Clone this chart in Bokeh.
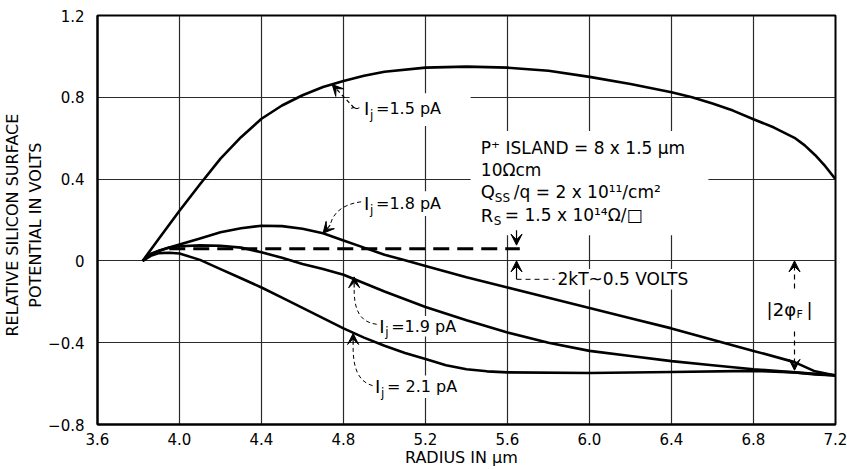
from bokeh.plotting import figure
from bokeh.models import Range1d, FixedTicker, Label, Arrow, VeeHead
from bokeh.embed import file_html
from bokeh.resources import INLINE

# ---------------- data ----------------
x_ticks = [3.6, 4.0, 4.4, 4.8, 5.2, 5.6, 6.0, 6.4, 6.8, 7.2]
x_tick_labels = ["3.6", "4.0", "4.4", "4.8", "5.2", "5.6", "6.0", "6.4", "6.8", "7.2"]
y_ticks = [-0.8, -0.4, 0.0, 0.4, 0.8, 1.2]
y_tick_labels = ["\u22120.8", "\u22120.4", "0", "0.4", "0.8", "1.2"]

radius_15 = [3.82, 3.9, 4.0, 4.1, 4.2, 4.3, 4.4, 4.5, 4.6, 4.7, 4.8, 4.9, 5.0, 5.2, 5.4,
             5.6, 5.8, 6.0, 6.2, 6.4, 6.5, 6.6, 6.7, 6.8, 6.9, 7.0, 7.05, 7.1, 7.15, 7.2]
potential_15 = [0.0, 0.11, 0.245, 0.375, 0.50, 0.605, 0.695, 0.76, 0.81, 0.85, 0.88, 0.905,
                0.925, 0.945, 0.95, 0.945, 0.93, 0.90, 0.865, 0.825, 0.80, 0.77, 0.735, 0.693,
                0.652, 0.602, 0.565, 0.518, 0.463, 0.40]

radius_18 = [3.82, 3.86, 3.9, 3.95, 4.0, 4.1, 4.2, 4.3, 4.4, 4.5, 4.6, 4.7, 4.8, 4.9, 5.0,
             5.1, 5.2, 5.4, 5.6, 5.8, 6.0, 6.2, 6.4, 6.6, 6.8, 7.0, 7.1, 7.2]
potential_18 = [0.0, 0.03, 0.05, 0.065, 0.08, 0.11, 0.14, 0.16, 0.172, 0.17, 0.157, 0.135,
                0.10, 0.065, 0.03, 0.003, -0.025, -0.08, -0.13, -0.18, -0.23, -0.28, -0.33,
                -0.385, -0.44, -0.495, -0.54, -0.56]

radius_19 = [3.82, 3.86, 3.9, 3.95, 4.0, 4.1, 4.2, 4.3, 4.4, 4.5, 4.6, 4.7, 4.8, 5.0, 5.2,
             5.4, 5.6, 5.8, 6.0, 6.2, 6.4, 6.6, 6.8, 7.0, 7.2]
potential_19 = [0.0, 0.035, 0.05, 0.065, 0.072, 0.076, 0.074, 0.065, 0.042, 0.015, -0.015,
                -0.04, -0.068, -0.15, -0.225, -0.29, -0.35, -0.40, -0.44, -0.465, -0.49,
                -0.51, -0.53, -0.545, -0.56]

radius_21 = [3.82, 3.86, 3.9, 3.95, 4.0, 4.1, 4.2, 4.3, 4.4, 4.5, 4.6, 4.7, 4.8, 4.9, 5.0,
             5.1, 5.2, 5.3, 5.4, 5.5, 5.6, 6.0, 6.4, 6.8, 7.0, 7.1, 7.2]
potential_21 = [0.0, 0.025, 0.038, 0.04, 0.036, 0.005, -0.04, -0.085, -0.13, -0.18, -0.23,
                -0.28, -0.33, -0.375, -0.415, -0.45, -0.48, -0.51, -0.53, -0.54, -0.545,
                -0.548, -0.543, -0.538, -0.545, -0.555, -0.56]

kt_radius = [3.95, 5.66]   # extent of the 2kT level line
kt_level = 0.06            # 2kT level (volts)
phi_f_level = -0.535       # lower end of |2 phi_F|

FONT = "DejaVu Sans"

p = figure(width=847, height=469, x_range=Range1d(3.6, 7.2), y_range=Range1d(-0.8, 1.2),
           output_backend="svg", toolbar_location=None,
           min_border_left=96, min_border_right=12, min_border_top=15, min_border_bottom=45)
p.background_fill_color = "white"
p.border_fill_color = "white"
p.outline_line_color = "black"
p.outline_line_width = 2

p.xaxis.ticker = FixedTicker(ticks=x_ticks)
p.yaxis.ticker = FixedTicker(ticks=y_ticks)
p.xgrid.ticker = FixedTicker(ticks=x_ticks)
p.ygrid.ticker = FixedTicker(ticks=y_ticks)
p.xaxis.major_label_overrides = dict(zip(x_ticks, x_tick_labels))
p.yaxis.major_label_overrides = dict(zip(y_ticks, y_tick_labels))
for g in (p.xgrid, p.ygrid):
    g.grid_line_color = "#2a2a2a"
    g.grid_line_width = 1.2
for ax in (p.xaxis, p.yaxis):
    ax.axis_line_color = "black"
    ax.axis_line_width = 2
    ax.major_tick_line_color = None
    ax.minor_tick_line_color = None
    ax.major_label_text_font = FONT
    ax.major_label_text_font_size = "15px"
    ax.major_label_text_color = "black"
    ax.axis_label_text_font = FONT
    ax.axis_label_text_font_style = "normal"
    ax.axis_label_text_color = "black"
p.xaxis.axis_label_text_font_size = "16px"
p.yaxis.axis_label_text_font_size = "16px"
p.xaxis.major_label_standoff = 2
p.yaxis.major_label_standoff = 7
p.xaxis.axis_label_standoff = 0
p.yaxis.axis_label_standoff = 0
p.xaxis.axis_label = "RADIUS  IN  \u03bcm"
p.yaxis.axis_label = "RELATIVE  SILICON  SURFACE\nPOTENTIAL  IN  VOLTS"

# white knock-out boxes behind texts (hide grid lines)
p.quad(left=[4.83, 4.87, 4.95, 4.93, 5.42, 5.82],
       right=[5.42, 5.33, 5.36, 5.37, 6.58, 6.56],
       bottom=[0.66, 0.22, -0.37, -0.67, 0.126, -0.14],
       top=[0.82, 0.34, -0.27, -0.56, 0.635, -0.04],
       fill_color="white", line_color=None)

# curves
for xs, ys in ((radius_15, potential_15), (radius_18, potential_18),
               (radius_19, potential_19), (radius_21, potential_21)):
    p.line(xs, ys, line_color="black", line_width=2.6, line_join="round")

# 2kT dashed level
p.line(kt_radius, [kt_level, kt_level], line_color="black", line_width=3, line_dash="16 8")


def lab(x, y, text, size=15, dx=0, dy=0, align="left"):
    p.add_layout(Label(x=x, y=y, x_offset=dx, y_offset=dy, text=text, text_font=FONT,
                       text_font_size=f"{size}px", text_align=align,
                       text_baseline="middle", text_color="black"))


def arrow(x0, y0, x1, y1, dash="solid", width=1.2):
    p.add_layout(Arrow(x_start=x0, y_start=y0, x_end=x1, y_end=y1, line_width=width,
                       line_dash=dash, line_color="black",
                       end=VeeHead(size=11, fill_color="black", line_color="black")))


def ij_label(x, y, rest):
    lab(x, y, "I", 18)
    lab(x, y, "j", 12, dx=6, dy=-6)
    lab(x, y, rest, 16, dx=12)


# curve labels
ij_label(4.90, 0.743, " =1.5 pA")
arrow(4.852, 0.748, 4.745, 0.862, dash="4 3")
lab(4.86, 0.752, "~", 13, dx=-6)

ij_label(4.90, 0.280, "=1.8 pA")
p.bezier(x0=[4.886], y0=[0.289], x1=[4.735], y1=[0.175], cx0=[4.78], cy0=[0.275],
         cx1=[4.745], cy1=[0.22], line_color="black", line_width=1, line_dash="4 3")
arrow(4.735, 0.175, 4.70, 0.135)

ij_label(4.974, -0.319, "=1.9 pA")
p.bezier(x0=[4.962], y0=[-0.31], x1=[4.852], y1=[-0.13], cx0=[4.88], cy0=[-0.3],
         cx1=[4.85], cy1=[-0.24], line_color="black", line_width=1, line_dash="4 3")
arrow(4.852, -0.13, 4.852, -0.078)

ij_label(4.954, -0.615, "= 2.1 pA")
p.bezier(x0=[4.942], y0=[-0.61], x1=[4.847], y1=[-0.41], cx0=[4.87], cy0=[-0.59],
         cx1=[4.845], cy1=[-0.52], line_color="black", line_width=1, line_dash="4 3")
arrow(4.847, -0.41, 4.847, -0.355)

# parameter block
bx = 5.47
lab(bx, 0.552, "P\u207a ISLAND = 8 x 1.5 \u03bcm", 17)
lab(bx, 0.445, "10\u03a9cm", 17)
lab(bx, 0.338, "Q", 18)
lab(bx, 0.338, "SS", 12, dx=14, dy=-6)
lab(bx, 0.338, "/q = 2 x 10\u00b9\u00b9/cm\u00b2", 17, dx=33)
lab(bx, 0.224, "R", 18)
lab(bx, 0.224, "S", 12, dx=13, dy=-6)
lab(bx, 0.224, "= 1.5 x 10\u00b9\u2074\u03a9/\u25a1", 17, dx=24)

# 2kT annotation
arrow(5.644, 0.15, 5.644, 0.077)
arrow(5.644, -0.09, 5.644, 0.0)
p.line([5.644, 5.83], [-0.09, -0.09], line_color="black", line_width=1, line_dash="5 4")
lab(5.844, -0.09, "2kT~0.5 VOLTS", 17)

# |2 phi_F| annotation
arrow(7.0, -0.135, 7.0, 0.0, dash="5 4")
arrow(7.0, -0.345, 7.0, phi_f_level, dash="5 4")
lab(6.864, -0.237, "|2\u03c6", 18)
lab(6.864, -0.237, "F", 11, dx=30, dy=-5)
lab(6.864, -0.237, "|", 18, dx=40)

open("out.html", "w").write(file_html(p, INLINE))
